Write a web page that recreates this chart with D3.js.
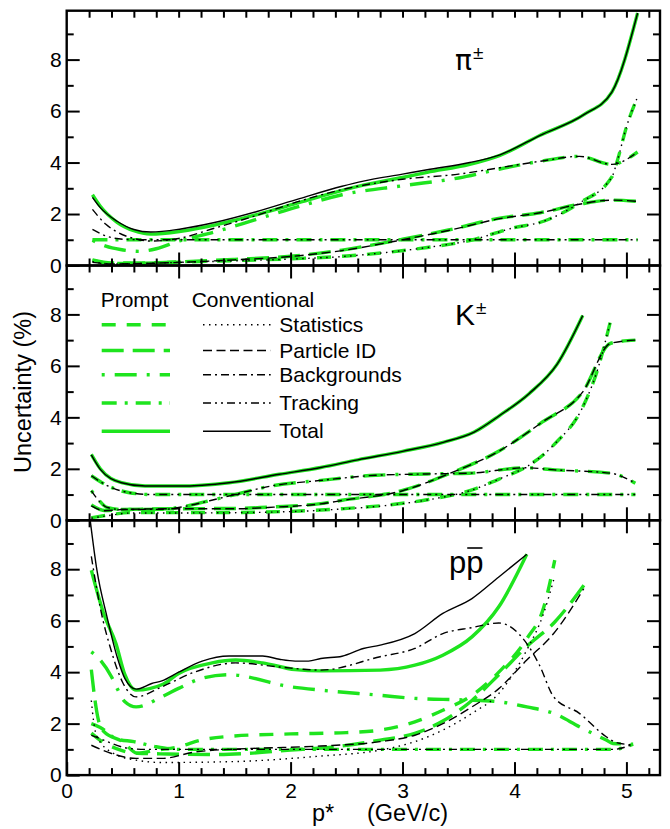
<!DOCTYPE html>
<html><head><meta charset="utf-8">
<script src="https://cdn.jsdelivr.net/npm/d3@7"></script>
<style>
body{margin:0;background:#fff;}
text{font-family:"Liberation Sans",Arial,Helvetica,sans-serif;fill:#000;}
</style></head>
<body><svg id="c" width="670" height="829"></svg>
<script>
// ---------- data ----------
const categories = ["Statistics","Particle ID","Backgrounds","Tracking","Total"];
const xTickLabels = [0,1,2,3,4,5];
const yTickLabels = [0,2,4,6,8];
const panelNames = ["pi","K","p"];

// pi+-
const piConvStat = [[0.23,0.15],[0.4,0.06],[0.7,0.08],[1.0,0.12],[1.5,0.18],[2.0,0.25],[2.5,0.36],[2.84,0.5],[3.22,0.7],[3.6,0.97],[3.98,1.45],[4.26,1.72],[4.58,2.43],[4.87,3.44],[4.92,4.09],[5.0,5.38],[5.1,6.55]];
const piPromptStat = [[0.23,0.2],[0.4,0.08],[0.7,0.09],[1.0,0.13],[1.5,0.19],[2.0,0.26],[2.5,0.37],[2.84,0.5],[3.22,0.7],[3.6,0.97],[3.98,1.45],[4.26,1.72],[4.58,2.43],[4.87,3.44],[4.92,4.09],[5.0,5.38],[5.1,6.55]];
const piConvPid = [[0.23,0.12],[0.4,0.06],[0.7,0.08],[1.0,0.12],[1.5,0.22],[2.0,0.35],[2.46,0.58],[3.0,1.0],[3.41,1.36],[3.87,1.82],[4.23,2.05],[4.58,2.38],[4.87,2.54],[5.1,2.49]];
const piPromptPid = [[0.23,0.22],[0.4,0.1],[0.7,0.1],[1.0,0.14],[1.5,0.24],[2.0,0.36],[2.46,0.6],[3.0,1.02],[3.41,1.38],[3.87,1.84],[4.23,2.05],[4.58,2.38],[4.87,2.54],[5.1,2.49]];
const piConvBkg = [[0.23,2.18],[0.35,1.6],[0.45,1.3],[0.6,1.05],[0.75,0.95],[1.0,1.05],[1.32,1.45],[1.7,1.95],[2.08,2.5],[2.46,2.95],[3.0,3.35],[3.5,3.55],[3.87,3.8],[4.23,4.05],[4.58,4.24],[4.87,3.93],[5.1,4.41]];
const piPromptBkg = [[0.23,0.98],[0.35,0.75],[0.48,0.62],[0.65,0.55],[0.8,0.65],[1.0,0.95],[1.32,1.3],[1.7,1.8],[2.08,2.3],[2.46,2.75],[3.0,3.1],[3.5,3.4],[3.87,3.75],[4.23,4.05],[4.58,4.24],[4.87,3.93],[5.1,4.41]];
const piConvTrk = [[0.23,1.4],[0.35,1.15],[0.5,1.02],[0.7,1.0],[5.1,1.0]];
const piPromptTrk = [[0.23,1.0],[5.1,1.0]];
const piConvTot = [[0.23,2.65],[0.3,2.25],[0.45,1.72],[0.6,1.4],[0.75,1.3],[1.02,1.42],[1.32,1.67],[1.7,2.1],[2.08,2.6],[2.46,3.08],[2.65,3.28],[3.0,3.55],[3.22,3.72],[3.6,4.0],[3.87,4.3],[4.23,5.06],[4.62,5.86],[4.87,6.74],[5.1,9.81]];
const piPromptTot = [[0.23,2.75],[0.3,2.3],[0.45,1.68],[0.6,1.35],[0.75,1.22],[1.02,1.33],[1.32,1.57],[1.7,1.98],[2.08,2.45],[2.46,2.92],[2.65,3.12],[3.0,3.42],[3.22,3.62],[3.6,3.93],[3.87,4.28],[4.23,5.06],[4.62,5.86],[4.87,6.74],[5.1,9.81]];

// K+-
const kConvStat = [[0.22,0.08],[0.4,0.2],[0.55,0.28],[1.32,0.29],[2.08,0.35],[2.46,0.44],[2.84,0.57],[3.22,0.79],[3.6,1.15],[3.9,1.67],[4.1,2.06],[4.36,2.97],[4.61,4.4],[4.74,5.82],[4.86,7.78]];
const kPromptStat = [[0.22,0.1],[0.4,0.22],[0.55,0.3],[1.32,0.3],[2.08,0.36],[2.46,0.45],[2.84,0.58],[3.22,0.8],[3.6,1.15],[3.9,1.67],[4.1,2.06],[4.36,2.97],[4.61,4.4],[4.74,5.82],[4.86,7.78]];
const kConvPid = [[0.22,0.56],[0.34,0.37],[0.5,0.42],[1.0,0.45],[1.5,0.45],[1.85,0.51],[2.27,0.64],[2.46,0.77],[3.0,1.15],[3.41,1.8],[3.87,2.71],[4.25,3.82],[4.61,4.99],[4.86,6.88],[5.08,7.0]];
const kPromptPid = [[0.22,0.6],[0.34,0.38],[0.5,0.42],[1.0,0.45],[1.5,0.46],[1.85,0.52],[2.27,0.65],[2.46,0.78],[3.0,1.16],[3.41,1.8],[3.87,2.71],[4.25,3.82],[4.61,4.99],[4.86,6.88],[5.08,7.0]];
const kConvBkg = [[0.22,1.14],[0.3,0.7],[0.36,0.5],[0.5,0.42],[0.88,0.43],[1.0,0.5],[1.4,0.89],[1.85,1.35],[2.27,1.55],[2.76,1.75],[3.22,1.8],[3.6,1.83],[4.1,2.04],[4.36,1.96],[4.86,1.83],[5.08,1.44]];
const kPromptBkg = [[0.22,1.16],[0.3,0.72],[0.36,0.5],[0.5,0.42],[0.88,0.43],[1.0,0.5],[1.4,0.89],[1.85,1.35],[2.27,1.55],[2.76,1.75],[3.22,1.8],[3.6,1.83],[4.1,2.04],[4.36,1.96],[4.86,1.83],[5.08,1.44]];
const kConvTrk = [[0.22,1.73],[0.34,1.4],[0.55,1.08],[0.76,1.0],[5.08,1.0]];
const kPromptTrk = [[0.22,1.73],[0.34,1.4],[0.55,1.08],[0.76,1.0],[5.08,1.0]];
const kConvTot = [[0.22,2.54],[0.3,1.98],[0.49,1.46],[0.7,1.33],[1.0,1.33],[1.45,1.46],[1.9,1.79],[2.27,2.05],[2.6,2.35],[3.0,2.68],[3.37,3.04],[3.64,3.43],[3.87,4.08],[4.13,4.92],[4.38,6.06],[4.61,7.96]];
const kPromptTot = [[0.22,2.56],[0.3,2.0],[0.49,1.46],[0.7,1.33],[1.0,1.33],[1.45,1.46],[1.9,1.79],[2.27,2.05],[2.6,2.35],[3.0,2.68],[3.37,3.04],[3.64,3.43],[3.87,4.08],[4.13,4.92],[4.38,6.06],[4.61,7.96]];

// p pbar
const pConvStat = [[0.22,2.9],[0.24,2.1],[0.27,1.5],[0.42,0.84],[0.62,0.58],[0.85,0.49],[1.45,0.52],[2.27,0.74],[2.8,0.97],[3.11,1.3],[3.36,1.75],[3.62,2.4],[3.86,3.17],[4.11,4.86],[4.26,6.28],[4.35,7.58]];
const pPromptStat = [[0.22,1.63],[0.3,1.35],[0.45,1.02],[0.63,0.85],[0.8,0.97],[1.0,1.1],[1.2,1.36],[1.5,1.52],[2.0,1.6],[2.5,1.65],[2.8,1.75],[3.11,2.07],[3.36,2.52],[3.62,3.1],[3.86,4.0],[4.11,5.3],[4.26,6.5],[4.36,8.35]];
const pConvPid = [[0.22,1.16],[0.4,0.84],[0.62,0.65],[0.85,0.65],[1.15,0.9],[1.45,1.0],[1.75,1.05],[2.27,1.13],[2.8,1.3],[3.11,1.55],[3.36,2.0],[3.62,2.65],[3.86,3.36],[4.11,4.47],[4.35,5.5],[4.62,7.25]];
const pPromptPid = [[0.22,4.1],[0.25,3.0],[0.28,2.2],[0.33,1.7],[0.5,1.3],[0.63,0.85],[0.9,0.82],[1.3,0.8],[1.6,0.84],[2.0,0.97],[2.4,1.1],[2.8,1.36],[3.11,1.62],[3.36,2.1],[3.62,2.9],[3.86,3.9],[4.11,5.0],[4.36,5.95],[4.62,7.38]];
const pConvBkg = [[0.22,8.5],[0.3,6.5],[0.4,4.8],[0.5,3.6],[0.62,3.04],[0.85,3.43],[1.14,4.0],[1.51,4.36],[1.9,4.2],[2.27,4.08],[2.8,4.6],[3.11,4.92],[3.36,5.5],[3.62,5.73],[3.86,5.91],[4.11,5.11],[4.22,4.3],[4.35,3.04],[4.58,2.4],[4.82,1.49],[4.9,1.28],[5.06,1.17]];
const pPromptBkg = [[0.22,4.79],[0.3,4.47],[0.4,3.82],[0.45,3.37],[0.52,2.85],[0.62,2.65],[0.85,3.04],[1.0,3.37],[1.2,3.75],[1.45,3.9],[2.0,3.43],[2.27,3.3],[2.8,3.1],[3.11,2.98],[3.55,2.92],[3.86,2.85],[4.11,2.65],[4.35,2.4],[4.58,1.88],[4.82,1.36],[4.88,1.23],[5.06,1.2]];
const pConvTrk = [[0.22,1.55],[0.33,1.36],[0.55,1.04],[0.7,1.0],[4.88,1.0],[5.06,1.2]];
const pPromptTrk = [[0.22,2.0],[0.3,1.85],[0.45,1.4],[0.6,1.3],[0.8,1.1],[1.0,1.0],[4.88,1.0],[5.06,1.2]];
const pConvTot = [[0.21,9.9],[0.27,7.96],[0.36,6.15],[0.45,4.6],[0.52,3.75],[0.62,3.34],[0.76,3.56],[0.85,3.66],[1.0,4.0],[1.21,4.43],[1.45,4.63],[1.75,4.63],[1.9,4.5],[2.04,4.43],[2.16,4.43],[2.27,4.53],[2.46,4.62],[2.65,4.92],[2.8,5.05],[3.11,5.5],[3.36,6.28],[3.62,6.86],[3.86,7.7],[4.11,8.58]];
const pPromptTot = [[0.22,7.96],[0.33,6.28],[0.44,5.11],[0.52,3.9],[0.62,3.3],[0.86,3.53],[1.0,3.95],[1.3,4.36],[1.51,4.47],[1.75,4.36],[2.04,4.1],[2.27,4.05],[2.8,4.08],[3.11,4.27],[3.36,4.66],[3.62,5.37],[3.86,6.54],[4.11,8.58]];

const panelSeries = [
  {conv:[piConvStat,piConvPid,piConvBkg,piConvTrk,piConvTot], prompt:[piPromptStat,piPromptPid,piPromptBkg,piPromptTrk,piPromptTot]},
  {conv:[kConvStat,kConvPid,kConvBkg,kConvTrk,kConvTot], prompt:[kPromptStat,kPromptPid,kPromptBkg,kPromptTrk,kPromptTot]},
  {conv:[pConvStat,pConvPid,pConvBkg,pConvTrk,pConvTot], prompt:[pPromptStat,pPromptPid,pPromptBkg,pPromptTrk,pPromptTot]}
];

// ---------- styles ----------
const GREEN = "rgb(30,228,30)";
const greenDash = ["14,11","22,9","3,10,22,10","15,8,3,8",null];
const blackDash = ["1.5,4.5","9,4.5","8,4,2,4","8,4,2,4,2,4",null];

// ---------- layout ----------
const svg = d3.select("#c");
const left=66.7, right=660, top0=10.7, ph=254.8;
const x = d3.scaleLinear().domain([0,5.3]).range([left,right]);
const font = '"Liberation Sans",Arial,Helvetica,sans-serif';

panelSeries.forEach((ps,i)=>{
  const t = top0 + i*ph;
  const y = d3.scaleLinear().domain([0,9.9]).range([t+ph,t]);
  const g = svg.append("g");
  g.append("clipPath").attr("id","clip"+i).append("rect")
    .attr("x",left).attr("y",t).attr("width",right-left).attr("height",ph);
  const line = d3.line().x(d=>x(d[0])).y(d=>y(d[1])).curve(d3.curveMonotoneX);
  const lg = g.append("g").attr("clip-path","url(#clip"+i+")");
  ps.prompt.forEach((s,k)=>{
    lg.append("path").attr("d",line(s)).attr("fill","none").attr("stroke",GREEN)
      .attr("stroke-width",3.4).attr("stroke-dasharray",greenDash[k]);
  });
  ps.conv.forEach((s,k)=>{
    lg.append("path").attr("d",line(s)).attr("fill","none").attr("stroke","#000")
      .attr("stroke-width",1.4).attr("stroke-dasharray",blackDash[k]);
  });

  // axes (inward ticks)
  g.append("g").attr("transform",`translate(${left},0)`)
    .call(d3.axisLeft(y).tickValues(yTickLabels).tickSize(-13).tickPadding(5).tickFormat(d3.format("d")));
  g.append("g").attr("transform",`translate(${left},0)`)
    .call(d3.axisLeft(y).tickValues([1,3,5,7,9]).tickSize(-7).tickFormat(""));
  g.append("g").attr("transform",`translate(${right},0)`)
    .call(d3.axisRight(y).tickValues([2,4,6,8]).tickSize(-13).tickFormat(""));
  g.append("g").attr("transform",`translate(${right},0)`)
    .call(d3.axisRight(y).tickValues([1,3,5,7,9]).tickSize(-7).tickFormat(""));
  const minorX = d3.range(1,27).map(v=>v/5).filter(v=>Math.abs(v-Math.round(v))>1e-6);
  g.append("g").attr("transform",`translate(0,${t+ph})`)
    .call(d3.axisBottom(x).tickValues(i===2?xTickLabels:[1,2,3,4,5]).tickSize(-13).tickPadding(8)
      .tickFormat(i===2?d3.format("d"):""));
  g.append("g").attr("transform",`translate(0,${t+ph})`)
    .call(d3.axisBottom(x).tickValues(minorX).tickSize(-7).tickFormat(""));
  g.append("g").attr("transform",`translate(0,${t})`)
    .call(d3.axisTop(x).tickValues([1,2,3,4,5]).tickSize(i===0?-7:-13).tickFormat(""));
  g.append("g").attr("transform",`translate(0,${t})`)
    .call(d3.axisTop(x).tickValues(minorX).tickSize(-7).tickFormat(""));
  g.selectAll(".domain").remove();
  g.selectAll(".tick line").attr("stroke","#000").attr("stroke-width",2);
  g.selectAll(".tick text").attr("font-size",21).attr("font-family",font).attr("fill","#000");

  g.append("rect").attr("x",left).attr("y",t).attr("width",right-left).attr("height",ph)
    .attr("fill","none").attr("stroke","#000").attr("stroke-width",2.4);
});

// panel labels
const L = svg.append("g").attr("font-family",font);
L.append("text").attr("x",455).attr("y",70).attr("font-size",28)
  .style("font-family",'"DejaVu Sans",sans-serif').text("π");
L.append("text").attr("x",473).attr("y",59).attr("font-size",19).text("±");
L.append("text").attr("x",455).attr("y",325).attr("font-size",30).text("K");
L.append("text").attr("x",476).attr("y",314).attr("font-size",19).text("±");
const pp = L.append("text").attr("x",449).attr("y",573).attr("font-size",31).text("pp");
{
  const b = pp.node().getExtentOfChar(1);
  L.append("line").attr("x1",b.x+1).attr("x2",b.x+b.width-1)
    .attr("y1",b.y+3).attr("y2",b.y+3).attr("stroke","#000").attr("stroke-width",1.6);
}

// axis titles
svg.append("text").attr("transform","translate(31,392) rotate(-90)").attr("text-anchor","middle")
  .attr("font-size",23.5).attr("font-family",font).text("Uncertainty (%)");
svg.append("text").attr("x",312).attr("y",821).attr("font-size",23.5).attr("font-family",font).text("p*");
svg.append("text").attr("x",367).attr("y",821).attr("font-size",23.5).attr("font-family",font).text("(GeV/c)");

// legend
const leg = svg.append("g").attr("font-family",font).attr("font-size",21);
leg.append("text").attr("x",100.7).attr("y",307).text("Prompt");
leg.append("text").attr("x",191.7).attr("y",307).text("Conventional");
const legBase = [331.7,357.5,381.7,410,438.3];
categories.forEach((c,k)=>{
  const yy = legBase[k]-7;
  leg.append("line").attr("x1",101.7).attr("x2",170).attr("y1",yy).attr("y2",yy)
    .attr("stroke",GREEN).attr("stroke-width",3.4).attr("stroke-dasharray",greenDash[k]);
  leg.append("line").attr("x1",203).attr("x2",270.7).attr("y1",yy).attr("y2",yy)
    .attr("stroke","#000").attr("stroke-width",1.4).attr("stroke-dasharray",blackDash[k]);
  leg.append("text").attr("x",279.3).attr("y",legBase[k]).text(c);
});
</script></body></html>
